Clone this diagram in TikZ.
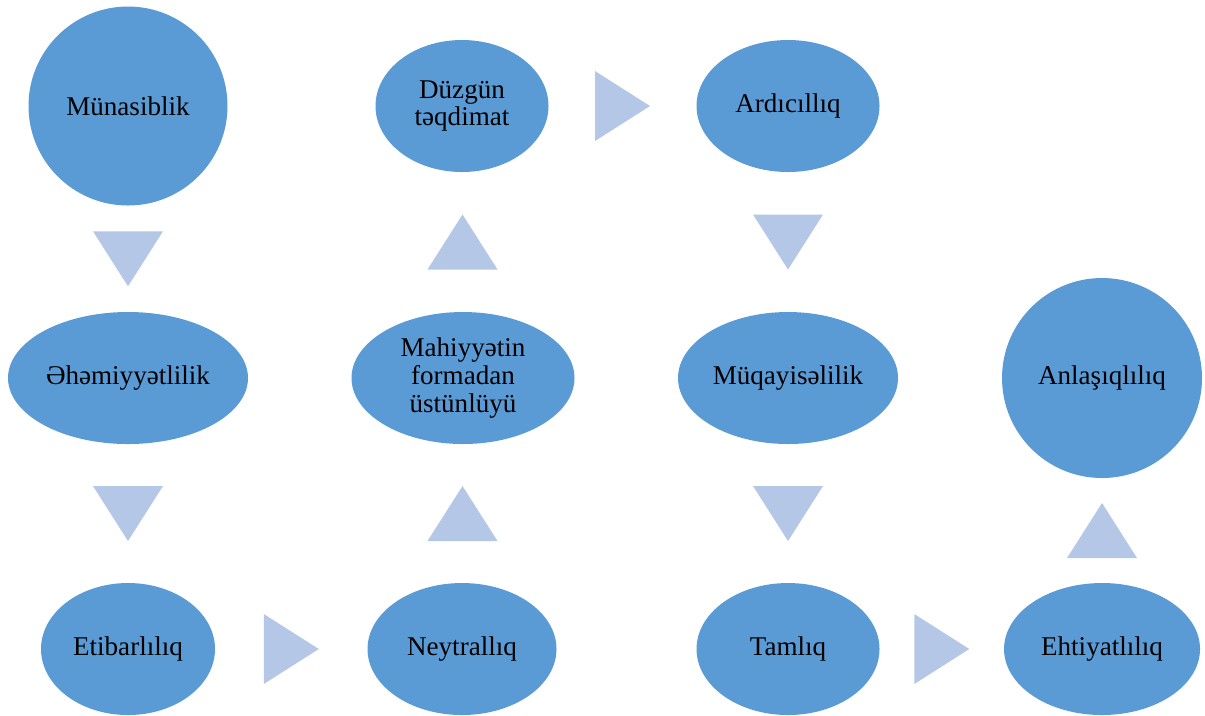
\documentclass[tikz,border=0pt]{standalone}
\usepackage{fontspec}
\setmainfont{Liberation Serif}
\usetikzlibrary{shapes.geometric,calc}
\definecolor{nodeblue}{HTML}{5B9BD5}
\definecolor{triblue}{HTML}{B4C7E7}
\begin{document}
\begin{tikzpicture}[x=1cm,y=-1cm,font=\fontsize{7.7pt}{7.9pt}\selectfont,
	oval/.style={ellipse,fill=nodeblue,inner sep=0pt,minimum height=1.32cm,align=center},
	round/.style={circle,fill=nodeblue,inner sep=0pt,minimum size=1.99cm,align=center},
	tri/.style={fill=triblue}]
				\useasboundingbox (0,0) rectangle (12.05,7.15);
				\node[round] (mun) at (1.28,1.06) {Münasiblik};
				\node[oval,minimum width=2.40cm] (ehe) at (1.28,3.78) {Əhəmiyyətlilik};
				\node[oval,minimum width=1.74cm] (eti) at (1.28,6.49) {Etibarlılıq};
				\node[oval,minimum width=1.89cm] (ney) at (4.62,6.49) {Neytrallıq};
				\node[oval,minimum width=2.23cm] (mah) at (4.63,3.78) {Mahiyyətin\\formadan\\üstünlüyü};
				\node[oval,minimum width=1.73cm] (duz) at (4.62,1.06) {Düzgün\\təqdimat};
				\node[oval,minimum width=1.83cm] (ard) at (7.88,1.06) {Ardıcıllıq};
				\node[oval,minimum width=2.20cm] (muq) at (7.88,3.78) {Müqayisəlilik};
				\node[oval,minimum width=1.83cm] (tam) at (7.88,6.49) {Tamlıq};
				\node[oval,minimum width=1.96cm] (eht) at (11.02,6.49) {Ehtiyatlılıq};
				\node[round,minimum size=2.00cm] (anl) at (11.02,3.78) {Anlaşıqlılıq};
				% triangles between the nodes
				\foreach \a/\b in {mun/ehe,ehe/eti,ard/muq,muq/tam}
					\fill[tri] ($(\a.south)!0.5!(\b.north)$) ++(-0.35,-0.275) -- ++(0.7,0) -- ++(-0.35,0.55) -- cycle;
				\foreach \a/\b in {ney/mah,mah/duz,eht/anl}
					\fill[tri] ($(\a.north)!0.5!(\b.south)$) ++(-0.35,0.275) -- ++(0.7,0) -- ++(-0.35,-0.55) -- cycle;
				\foreach \a/\b in {eti/ney,duz/ard,tam/eht}
					\fill[tri] ($(\a.east)!0.5!(\b.west)$) ++(-0.275,-0.35) -- ++(0,0.7) -- ++(0.55,-0.35) -- cycle;
			\end{tikzpicture}
\end{document}
